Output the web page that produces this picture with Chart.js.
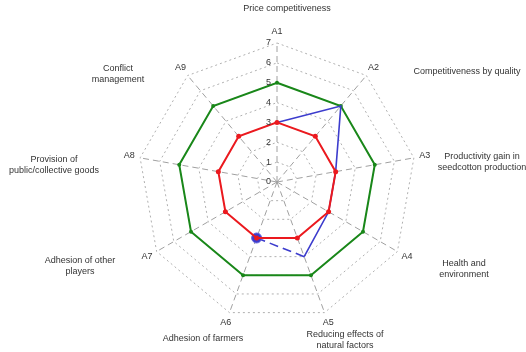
<!DOCTYPE html>
<html>
<head>
<meta charset="utf-8">
<script src="https://cdn.jsdelivr.net/npm/chart.js@4/dist/chart.umd.min.js"></script>
<style>
  html, body { margin: 0; padding: 0; background: #fff; }
  #wrap { width: 526px; height: 352px; }
</style>
</head>
<body>
<div id="wrap"><canvas id="radar"></canvas></div>
<script>
const axes = ['A1', 'A2', 'A3', 'A4', 'A5', 'A6', 'A7', 'A8', 'A9'];
const descriptions = [
    ['Price competitiveness'],
    ['Competitiveness by quality'],
    ['Productivity gain in', 'seedcotton production'],
    ['Health and', 'environment'],
    ['Reducing effects of', 'natural factors'],
    ['Adhesion of farmers'],
    ['Adhesion of other', 'players'],
    ['Provision of', 'public/collective goods'],
    ['Conflict', 'management'],
];
const tickValues = [0, 1, 2, 3, 4, 5, 6, 7];

const redValues = [3, 3, 3, 3, 3, 3, 3, 3, 3];
// blue: solid from A1 to A5, dashed from A5 to A6
const blueSolid = [3, 5, 3, 3, 4, null, null, null, null];
const blueDashed = [null, null, null, null, 4, 3, null, null, null];
const greenValues = [5, 5, 5, 5, 5, 5, 5, 5, 5];

// where the long descriptions sit (centre of first line)
const descPos = [
    [287, 9], [467, 72], [482, 157], [464, 264], [345, 335],
    [203, 339], [80, 261], [54, 160], [118, 69],
];

const font = '9px "Liberation Sans", Arial, sans-serif';
const textColor = '#333';
const blue = 'rgb(60, 60, 205)';

const labelsPlugin = {
    id: 'labelsPlugin',
    afterDraw(chart) {
        const scale = chart.scales.r;
        const ctx = chart.ctx;
        ctx.save();
        ctx.font = font;
        ctx.fillStyle = textColor;
        ctx.textBaseline = 'middle';

        // tick numbers, left of the A1 axis
        ctx.textAlign = 'right';
        tickValues.forEach(v => {
            const p = scale.getPointPosition(0, scale.getDistanceFromCenterForValue(v));
            ctx.fillText(String(v), p.x - 6, p.y);
        });

        // axis names
        ctx.textAlign = 'center';
        axes.forEach((name, i) => {
            const p = scale.getPointPosition(i, scale.drawingArea + 11);
            ctx.fillText(name, p.x, p.y);
        });

        // descriptions
        descriptions.forEach((lines, i) => {
            const [x, y] = descPos[i];
            lines.forEach((line, k) => ctx.fillText(line, x, y + k * 11));
        });
        ctx.restore();
    },
};

const ctx = document.getElementById('radar').getContext('2d');
const chart = new Chart(ctx, {
    type: 'radar',
    data: {
        labels: axes,
        datasets: [
            {
                label: 'red',
                data: redValues,
                borderColor: 'rgb(235, 25, 30)',
                backgroundColor: 'rgb(235, 25, 30)',
                borderWidth: 2,
                pointRadius: 2.5,
                pointBorderWidth: 0,
                pointBackgroundColor: 'rgb(235, 25, 30)',
                fill: false,
                order: 1,
            },
            {
                label: 'blue dashed',
                data: blueDashed,
                borderColor: blue,
                backgroundColor: blue,
                borderWidth: 1.6,
                borderDash: [9, 5],
                pointRadius: [0, 0, 0, 0, 0, 5, 0, 0, 0],
                pointBorderWidth: 1,
                pointBorderColor: 'rgb(100, 100, 220)',
                pointBackgroundColor: blue,
                fill: false,
                order: 2,
            },
            {
                label: 'blue',
                data: blueSolid,
                borderColor: blue,
                backgroundColor: blue,
                borderWidth: 1.6,
                pointRadius: 0,
                fill: false,
                order: 2,
            },
            {
                label: 'green',
                data: greenValues,
                borderColor: 'rgb(25, 135, 25)',
                backgroundColor: 'rgb(25, 135, 25)',
                borderWidth: 2,
                pointRadius: 2,
                pointBorderWidth: 0,
                pointBackgroundColor: 'rgb(25, 135, 25)',
                fill: false,
                order: 3,
            },
        ],
    },
    options: {
        responsive: true,
        maintainAspectRatio: false,
        animation: false,
        layout: {
            padding: { left: 138, right: 110, top: 43, bottom: 31 },
        },
        elements: { line: { tension: 0 } },
        scales: {
            r: {
                min: 0,
                max: 7,
                beginAtZero: true,
                ticks: { display: false, stepSize: 1 },
                pointLabels: { display: false },
                grid: { circular: false, color: '#b0b0b0', lineWidth: 1 },
                border: { dash: [2, 3] },
                angleLines: { color: '#a0a0a0', lineWidth: 1, borderDash: [6, 4] },
            },
        },
        plugins: {
            legend: { display: false },
            tooltip: { enabled: false },
        },
    },
    plugins: [labelsPlugin],
});
</script>
</body>
</html>
